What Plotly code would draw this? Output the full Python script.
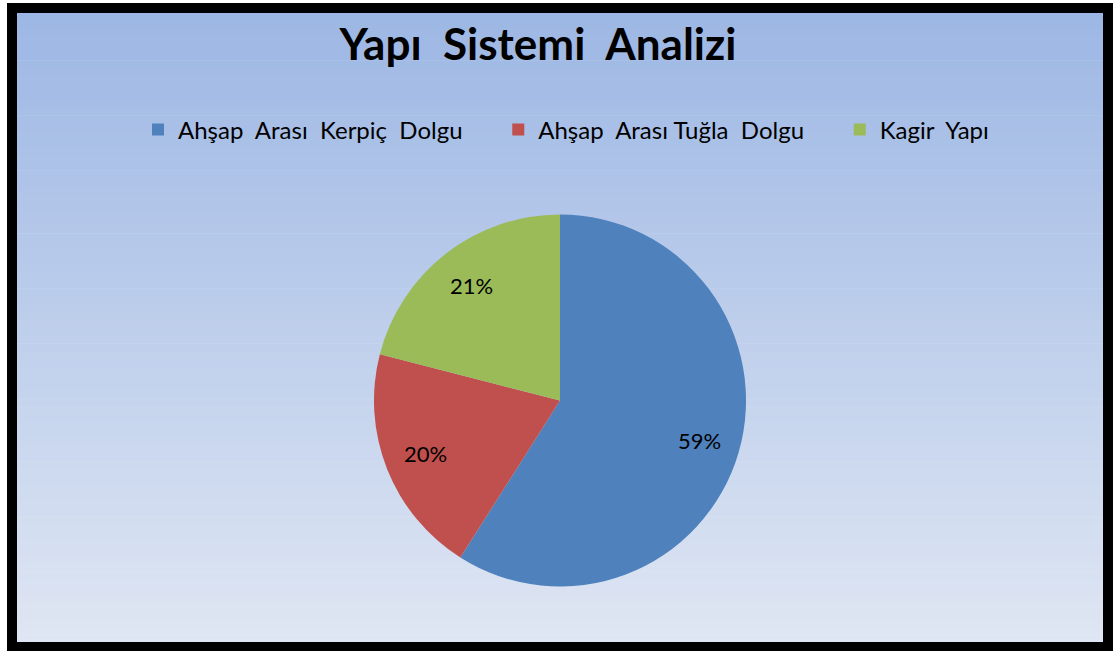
import numpy as np
import plotly.graph_objects as go

NB = "\u00a0"

# Chart data
categories = [
    f"Ahşap {NB}Arası {NB}Kerpiç {NB}Dolgu",
    f"Ahşap {NB}Arası Tuğla {NB}Dolgu",
    f"Kagir {NB}Yapı",
]
shares = [59, 20, 21]
slice_colors = ["#4F81BD", "#C0504D", "#9BBB59"]
title_text = f"Yapı {NB}Sistemi {NB}Analizi"

W, H = 1117, 651
FONT = "Lato, 'Open Sans', sans-serif"

# extra room after each legend entry so the items spread across the row
legend_pad = [NB * 5, NB * 5, ""]
legend_labels = [c + p for c, p in zip(categories, legend_pad)]


def px_x(x):
    return x / W


def px_y(y):
    return 1 - y / H


# Pie placement (pixel box of the circle)
pie_left, pie_right, pie_top, pie_bottom = 374, 746, 214, 587
cx_px = (pie_left + pie_right) / 2
cy_px = (pie_top + pie_bottom) / 2
radius_px = (pie_right - pie_left) / 2

fig = go.Figure(
    go.Pie(
        labels=legend_labels,
        values=shares,
        sort=False,
        direction="clockwise",
        rotation=0,
        marker=dict(colors=slice_colors, line=dict(width=0)),
        textinfo="none",
        domain=dict(x=[px_x(pie_left), px_x(pie_right)],
                    y=[px_y(pie_bottom), px_y(pie_top)]),
        customdata=categories,
        hovertemplate="%{customdata}: %{percent}<extra></extra>",
    )
)

# Percentage labels placed at the middle angle of each slice
vals = np.array(shares, dtype=float)
frac = vals / vals.sum()
mid = (np.cumsum(frac) - frac / 2) * 2 * np.pi  # clockwise from 12 o'clock
label_r = 0.78 * radius_px
annotations = []
for f, a in zip(frac, mid):
    lx = cx_px + label_r * np.sin(a)
    ly = cy_px - label_r * np.cos(a)
    annotations.append(dict(
        x=px_x(lx), y=px_y(ly), xref="paper", yref="paper",
        text=f"{f * 100:.0f}%", showarrow=False,
        xanchor="center", yanchor="middle",
        font=dict(size=22, color="black", family=FONT),
    ))

# Vertical gradient background inside the frame
shapes = []
top_rgb = (157, 183, 228)
bot_rgb = (223, 230, 243)
x0, x1, y0, y1 = 17, 1103, 13, 642
n = 80
for i in range(n):
    t = i / (n - 1)
    c = tuple(round(a + (b - a) * t) for a, b in zip(top_rgb, bot_rgb))
    ya = y0 + (y1 - y0) * i / n
    yb = y0 + (y1 - y0) * (i + 1) / n + 0.6
    shapes.append(dict(
        type="rect", xref="paper", yref="paper", layer="below",
        x0=px_x(x0), x1=px_x(x1), y0=px_y(ya), y1=px_y(yb),
        fillcolor=f"rgb{c}", line=dict(width=0),
    ))

# Thick black frame
shapes.append(dict(
    type="rect", xref="paper", yref="paper", layer="below",
    x0=px_x(12), x1=px_x(1108), y0=px_y(8), y1=px_y(647),
    fillcolor="rgba(0,0,0,0)", line=dict(color="black", width=10),
))

fig.update_layout(
    width=W, height=H,
    margin=dict(l=0, r=0, t=0, b=0),
    paper_bgcolor="white",
    font=dict(family=FONT, color="black"),
    title=dict(
        text=f"<b>{title_text}</b>",
        x=px_x(538), xanchor="center", y=px_y(45), yanchor="middle",
        font=dict(size=44, family=FONT, color="black"),
    ),
    legend=dict(
        orientation="h",
        x=px_x(138), xanchor="left",
        y=px_y(130), yanchor="middle",
        font=dict(size=24, family=FONT, color="black"),
        bgcolor="rgba(0,0,0,0)",
        itemclick=False,
    ),
    annotations=annotations,
    shapes=shapes,
)

fig.write_html("out.html")
